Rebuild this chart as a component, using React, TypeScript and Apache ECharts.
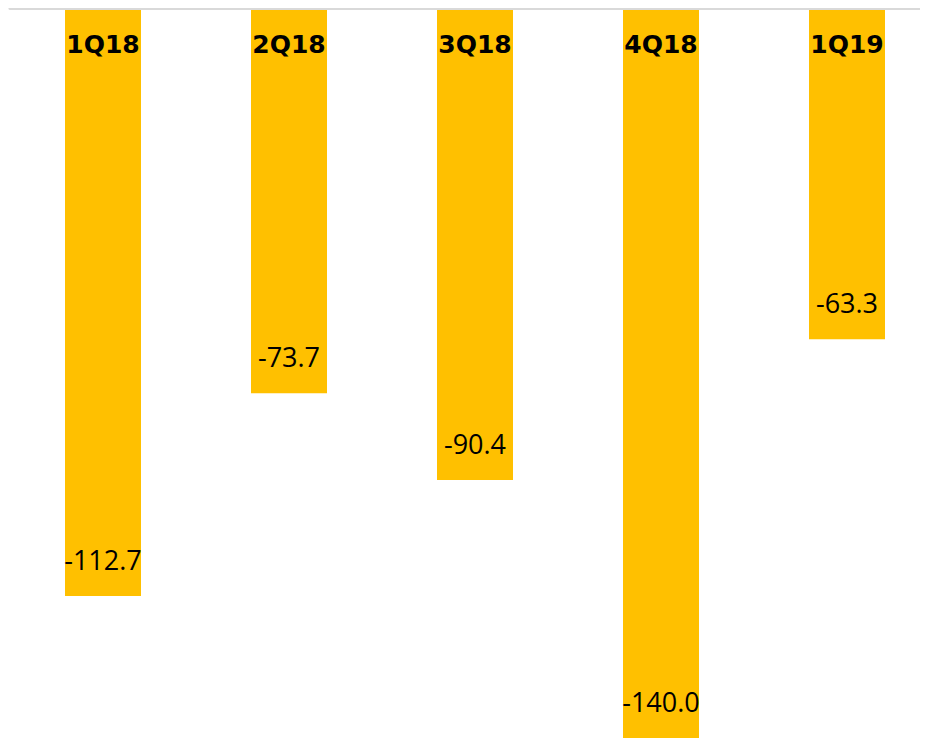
import React, { useEffect, useRef } from "react";
import * as echarts from "echarts";

const categories = ["1Q18", "2Q18", "3Q18", "4Q18", "1Q19"];
const values = [-112.7, -73.7, -90.4, -140.0, -63.3];
const yMin = -140;
const yMax = 0;

export default function App() {
  const ref = useRef<HTMLDivElement>(null);
  useEffect(() => {
    if (!ref.current) return;
    const chart = echarts.init(ref.current, null, { renderer: "svg" });
    chart.setOption({
      animation: false,
      grid: { left: 2, right: 0, top: 2, bottom: 0, containLabel: false },
      xAxis: {
        type: "category",
        data: categories,
        position: "top",
        offset: 1.5,
        axisLine: { show: true, onZero: false, lineStyle: { color: "#d9d9d9", width: 3 } },
        axisTick: { show: false },
        axisLabel: {
          inside: true,
          margin: 36,
          verticalAlign: "middle",
          color: "#000",
          fontWeight: "bold",
          fontSize: 25,
          fontFamily: "DejaVu Sans",
        },
        z: 5,
      },
      yAxis: {
        type: "value",
        min: yMin,
        max: yMax,
        show: false,
        splitLine: { show: false },
      },
      series: [
        {
          type: "bar",
          data: values,
          barWidth: 76,
          itemStyle: { color: "#FFC000" },
          label: {
            show: true,
            position: "insideBottom",
            distance: 23,
            color: "#000",
            fontSize: 27,
            fontFamily: "Open Sans",
            formatter: (p: any) => Number(p.value).toFixed(1),
          },
        },
      ],
    });
    return () => chart.dispose();
  }, []);
  return (
    <div style={{ width: 920, height: 730, overflow: "hidden" }}>
      <div ref={ref} style={{ width: 932, height: 730 }} />
    </div>
  );
}
